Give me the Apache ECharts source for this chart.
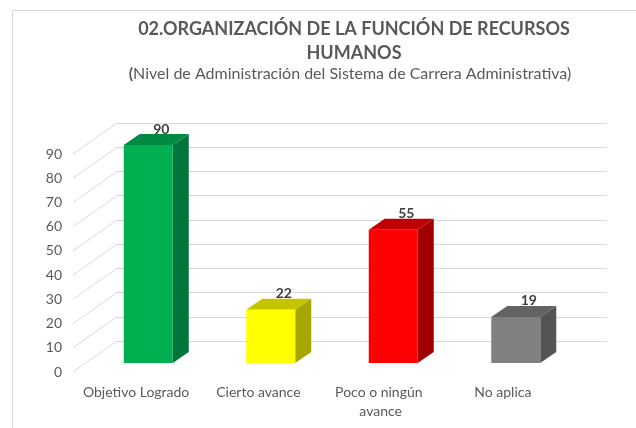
<!DOCTYPE html>
<html>
<head>
<meta charset="utf-8">
<script src="https://cdn.jsdelivr.net/npm/echarts@6/dist/echarts.min.js"></script>
<style>
  html, body { margin: 0; padding: 0; background: #fff; }
  #chartArea { width: 636px; height: 428px; }
</style>
</head>
<body>
<div id="chartArea"></div>
<script>
// datos del grafico
const categories = ['Objetivo Logrado', 'Cierto avance', 'Poco o ningún avance', 'No aplica'];
const values = [90, 22, 55, 19];
const yTicks = [0, 10, 20, 30, 40, 50, 60, 70, 80, 90];

// colores de cada barra (frente, lado, tapa)
const barColors = [
  { front: '#00B050', side: '#00753A', top: '#008A42' },
  { front: '#FFFF00', side: '#A6A600', top: '#C4C400' },
  { front: '#FF0000', side: '#A00000', top: '#C00000' },
  { front: '#808080', side: '#545454', top: '#636363' }
];

const FONT = 'Lato';
const TXT = '#595959';
// profundidad de la pared (frente -> fondo)
const WALL_DX = 44;
const WALL_DY = 31;
// profundidad de las barras
const BAR_DX = 16;
const BAR_DY = 11;

const chartDom = document.getElementById('chartArea');
let myChart = echarts.init(chartDom);
let option;

option = {
  animation: false,
  backgroundColor: '#fff',
  title: [
    {
      text: '02.ORGANIZACIÓN DE LA FUNCIÓN DE RECURSOS\nHUMANOS',
      left: 349,
      top: 12,
      textAlign: 'center',
      textStyle: { fontFamily: FONT, fontSize: 18, fontWeight: 'bold', color: TXT, lineHeight: 24 }
    },
    {
      text: '{b|(}Nivel de Administración del Sistema de Carrera Administrativa)',
      left: 345,
      top: 61,
      textAlign: 'center',
      textStyle: {
        fontFamily: FONT, fontSize: 16, fontWeight: 'normal', color: TXT,
        rich: { b: { fontFamily: FONT, fontSize: 16, fontWeight: 'bold', color: TXT } }
      }
    }
  ],
  graphic: [
    {
      type: 'rect',
      shape: { x: 12.5, y: 10.5, width: 640, height: 440 },
      style: { fill: 'none', stroke: '#D9D9D9', lineWidth: 1 },
      z: -10
    }
  ],
  grid: [
    // pared del fondo
    { left: 117, right: 29, top: 123, bottom: 87 },
    // ejes del frente (etiquetas)
    { left: 75, right: 72, top: 154, bottom: 56 },
    // barras
    { left: 87, right: 59, top: 145, bottom: 65 }
  ],
  xAxis: [
    { gridIndex: 0, type: 'value', min: 0, max: 1, show: false },
    {
      gridIndex: 1, type: 'category', data: categories,
      axisLine: { show: false }, axisTick: { show: false }, splitLine: { show: false },
      axisLabel: {
        fontFamily: FONT, fontSize: 14, color: TXT, margin: 11, lineHeight: 19,
        width: 118, overflow: 'break', interval: 0
      }
    },
    { gridIndex: 2, type: 'category', data: categories, show: false }
  ],
  yAxis: [
    {
      gridIndex: 0, type: 'value', min: 0, max: 90, interval: 10,
      axisLine: { show: false }, axisTick: { show: false }, axisLabel: { show: false },
      splitLine: { show: true, lineStyle: { color: '#D9D9D9', width: 1 } }
    },
    {
      gridIndex: 1, type: 'value', min: 0, max: 90, interval: 10,
      axisLine: { show: false }, axisTick: { show: false }, splitLine: { show: false },
      axisLabel: { fontFamily: FONT, fontSize: 14, color: TXT, margin: 13 }
    },
    { gridIndex: 2, type: 'value', min: 0, max: 90, show: false }
  ],
  series: [
    {
      // lineas diagonales de la pared lateral
      type: 'custom',
      xAxisIndex: 0,
      yAxisIndex: 0,
      silent: true,
      data: yTicks.map(v => [0, v]),
      renderItem: function (params, api) {
        let p = api.coord([0, api.value(1)]);
        return {
          type: 'line',
          shape: { x1: p[0], y1: p[1], x2: p[0] - WALL_DX, y2: p[1] + WALL_DY },
          style: { stroke: '#D9D9D9', lineWidth: 1 }
        };
      }
    },
    {
      // barras 3D
      type: 'custom',
      xAxisIndex: 2,
      yAxisIndex: 2,
      data: values.map((v, i) => [i, v]),
      renderItem: function (params, api) {
        let idx = api.value(0);
        let top = api.coord([idx, api.value(1)]);
        let base = api.coord([idx, 0]);
        let w = api.size([1, 0])[0] * 0.4;
        let x0 = top[0] - w / 2;
        let x1 = top[0] + w / 2;
        let c = barColors[idx];
        return {
          type: 'group',
          children: [
            {
              type: 'polygon',
              shape: { points: [[x1, top[1]], [x1 + BAR_DX, top[1] - BAR_DY], [x1 + BAR_DX, base[1] - BAR_DY], [x1, base[1]]] },
              style: { fill: c.side }
            },
            {
              type: 'polygon',
              shape: { points: [[x0, top[1]], [x0 + BAR_DX, top[1] - BAR_DY], [x1 + BAR_DX, top[1] - BAR_DY], [x1, top[1]]] },
              style: { fill: c.top }
            },
            {
              type: 'rect',
              shape: { x: x0, y: top[1], width: w, height: base[1] - top[1] },
              style: { fill: c.front }
            },
            {
              type: 'text',
              x: top[0] + 13,
              y: top[1] - BAR_DY - 5,
              style: {
                text: String(api.value(1)),
                fontFamily: FONT, fontSize: 14, fontWeight: 'bold', fill: '#404040',
                align: 'center', verticalAlign: 'middle'
              }
            }
          ]
        };
      }
    }
  ]
};

option && myChart.setOption(option);
</script>
</body>
</html>
